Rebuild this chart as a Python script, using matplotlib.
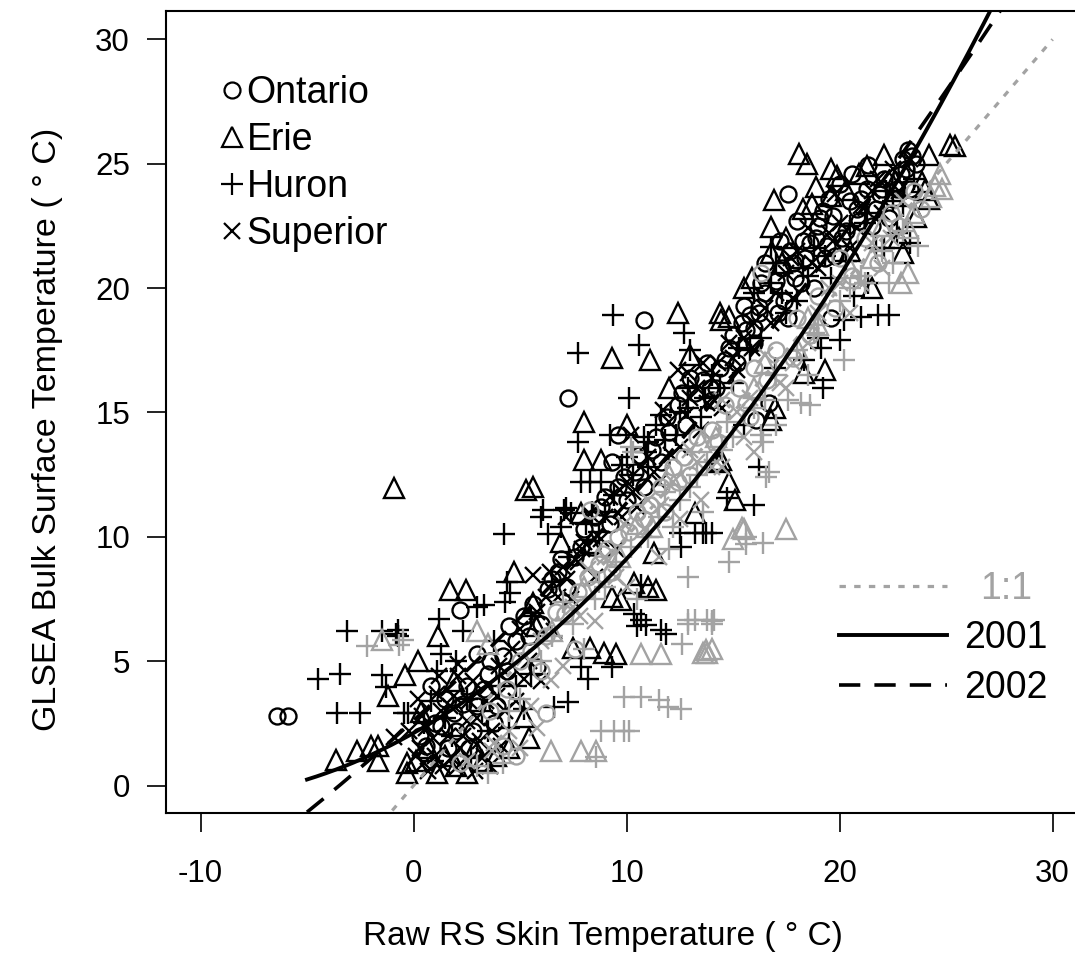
import numpy as np
import matplotlib
matplotlib.use("Agg")
import matplotlib.pyplot as plt
from matplotlib.lines import Line2D

plt.rcParams['font.family'] = ['Liberation Sans', 'DejaVu Sans']
plt.rcParams['axes.unicode_minus'] = False

# ---------------- data ----------------
ontario_black = [(-6.4, 2.8), (-5.9, 2.8), (2.2, 7.05), (4.5, 6.4), (7.25, 15.6), (10.8, 18.7), (9.6, 14.1),
                 (9.3, 13.0), (7.85, 9.6), (5.8, 4.75), (16.7, 15.4), (16.1, 14.7), (17.6, 23.8), (21.35, 24.95),
                 (23.2, 25.55), (23.0, 25.2), (17.65, 21.5), (15.5, 19.3), (16.2, 19.25), (16.0, 18.4), (19.6, 18.8),
                 (1.5, 3.5), (2.0, 2.2), (2.5, 4.0), (3.0, 3.2), (3.5, 4.5), (3.8, 2.5), (4.2, 5.2), (4.8, 5.8),
                 (5.2, 6.8), (5.6, 7.3), (6.0, 6.5), (6.3, 7.9), (6.8, 8.6), (7.2, 8.0), (7.6, 9.2), (8.0, 10.3),
                 (8.4, 9.6), (8.8, 11.2), (9.2, 10.5), (9.6, 12.0), (10.0, 11.5), (10.4, 12.6), (10.8, 12.0),
                 (11.2, 13.5), (11.6, 13.0), (12.0, 14.2), (12.4, 15.3), (12.8, 14.5), (13.2, 15.8), (13.6, 16.3),
                 (14.0, 15.5), (14.4, 16.8), (14.8, 17.6), (15.2, 17.0), (15.6, 18.3), (16.0, 17.8), (16.5, 19.8),
                 (17.0, 20.3), (17.4, 19.5), (17.8, 21.0), (18.2, 20.2), (18.6, 21.8), (19.0, 22.5), (19.3, 21.2),
                 (19.7, 22.9), (20.1, 22.0), (20.5, 23.5), (20.9, 22.7), (21.3, 24.0), (21.7, 23.2), (22.1, 24.4),
                 (22.5, 23.6), (22.9, 24.6), (23.3, 24.0), (23.6, 25.0), (18.0, 22.7), (17.2, 21.9), (16.5, 21.0),
                 (19.5, 23.6), (20.0, 24.2), (3.0, 5.3), (1.0, 2.5), (0.8, 4.0), (2.6, 1.5),
                 (0.6, 1.6), (1.3, 2.4), (1.9, 2.9), (2.3, 3.3), (3.3, 3.9), (3.9, 3.2), (4.4, 4.6), (2.8, 2.2),
                 (1.6, 1.5), (5.4, 6.0), (0.3, 2.0), (3.6, 5.0),
                 (16.3, 20.2), (17.1, 19.0), (17.9, 20.4), (18.4, 21.2), (18.9, 22.0), (19.4, 21.7), (19.8, 21.3),
                 (20.3, 22.3), (20.8, 23.2), (21.5, 22.5), (21.9, 23.8), (22.3, 22.8), (22.7, 24.0), (23.1, 24.8),
                 (18.8, 20.0), (17.6, 18.8), (15.8, 18.9), (15.0, 18.1), (14.2, 16.0), (13.8, 17.0), (20.6, 24.6),
                 (19.2, 23.1),
                 (13.0, 16.4), (13.9, 16.0), (14.6, 17.1), (15.4, 18.6), (16.2, 19.0), (17.3, 20.8), (18.3, 21.9),
                 (19.1, 22.8), (21.0, 23.6), (22.0, 24.0), (23.4, 25.3), (12.6, 15.8), (11.9, 14.8), (11.4, 14.0),
                 (10.6, 13.3), (9.9, 12.4), (9.0, 11.6), (8.5, 10.8), (6.9, 9.1), (6.5, 8.3)]
ontario_grey = [(4.8, 1.2), (16.3, 20.6), (8.3, 11.1), (3.6, 3.0), (4.4, 3.9), (5.0, 5.0), (5.5, 5.4), (6.2, 6.0),
                (6.7, 7.0), (7.1, 6.9), (7.7, 7.8), (8.2, 8.4), (8.7, 8.9), (9.1, 9.5), (9.6, 10.0), (10.1, 10.2),
                (10.5, 11.0), (11.1, 11.3), (11.6, 12.0), (12.2, 12.8), (12.7, 13.2), (13.3, 14.0), (14.0, 14.3),
                (14.6, 15.3), (15.3, 16.0), (16.0, 16.8), (17.0, 17.5), (18.0, 18.8), (19.0, 19.7), (20.0, 21.2),
                (21.2, 22.0), (22.4, 23.0), (23.5, 23.9), (6.0, 4.6), (7.6, 5.5), (4.2, 1.6), (2.2, 0.9),
                (9.3, 8.6), (11.8, 11.0), (13.0, 12.5), (15.8, 14.8), (17.8, 17.2), (19.8, 19.2), (21.8, 21.0),
                (23.8, 23.2), (6.2, 2.9),
                (8.9, 9.3), (10.8, 10.7), (12.4, 12.2), (14.3, 13.8), (15.6, 15.4), (16.6, 16.3), (18.6, 18.1),
                (20.6, 20.5), (22.8, 22.5)]
erie_black = [(-0.94, 11.96), (1.7, 7.85), (2.45, 7.85), (1.13, 6.0), (-0.4, 4.45), (-1.2, 3.6), (-3.65, 1.05),
              (-2.65, 1.4), (-2.0, 1.6), (-1.65, 1.6), (-1.65, 1.0), (-0.3, 0.9), (0.1, 1.0), (1.1, 0.5), (-0.3, 0.5),
              (0.33, 2.95), (5.3, 11.9), (5.6, 12.0), (8.0, 14.6), (8.0, 13.1), (8.8, 13.1), (9.3, 17.2), (11.1, 17.1),
              (12.4, 19.0), (14.4, 19.0), (7.85, 10.95), (6.9, 9.8), (8.35, 9.75), (4.7, 8.6), (5.6, 7.35),
              (5.75, 6.4), (14.3, 13.0), (14.8, 12.2), (15.1, 11.5), (13.2, 10.95), (11.3, 9.35), (10.35, 8.15),
              (11.0, 8.0), (11.4, 7.85), (9.3, 7.6), (9.75, 7.45), (7.5, 5.55), (8.3, 5.55), (8.95, 5.35), (9.5, 5.3),
              (5.2, 2.75), (5.4, 1.9), (3.85, 1.2), (16.8, 14.7), (16.95, 15.2), (14.45, 13.1), (18.1, 25.4),
              (18.45, 25.0), (19.6, 24.8), (20.9, 24.6), (22.1, 25.35), (24.2, 25.35), (25.2, 25.75), (25.4, 25.7),
              (16.9, 23.55), (18.9, 24.05), (18.3, 23.2), (18.7, 23.4), (16.8, 22.45), (19.6, 23.7), (20.3, 23.95),
              (23.6, 22.85), (23.85, 24.25), (24.0, 23.95), (24.2, 23.6), (16.8, 21.4), (14.8, 18.85), (14.45, 18.7),
              (23.0, 21.4), (22.8, 22.0), (18.35, 16.6), (19.3, 16.7), (2.0, 0.8), (3.2, 1.0), (1.5, 1.2),
              (12.0, 16.0), (13.0, 17.3), (10.0, 14.5), (15.5, 20.0), (20.5, 21.5), (21.5, 20.0), (17.5, 22.0),
              (15.9, 20.4), (0.7, 1.5), (2.5, 0.5), (4.5, 1.5), (2.9, 1.5), (1.9, 4.2), (0.2, 5.0),
              (21.3, 24.9), (22.6, 24.3), (17.3, 21.0), (19.9, 24.5)]
erie_grey = [(-1.46, 5.85), (3.0, 6.2), (3.5, 5.7), (10.7, 5.3), (11.6, 5.3), (13.8, 5.35), (13.6, 5.35), (6.45, 1.4),
             (7.85, 1.4), (8.55, 1.4), (15.5, 10.3), (15.0, 9.9), (17.5, 10.3), (13.75, 5.45), (14.0, 5.5),
             (24.7, 24.6), (24.5, 24.1), (24.3, 23.65), (23.2, 20.6), (22.9, 20.2), (15.4, 10.35), (12.0, 12.5),
             (13.5, 13.8), (10.5, 10.5), (8.0, 8.0), (6.5, 6.2), (16.5, 17.0), (18.5, 18.8), (20.5, 20.8),
             (22.0, 22.5), (23.5, 23.0), (19.0, 18.5), (24.8, 24.0),
             (9.7, 9.2), (11.2, 10.4), (14.2, 14.0), (16.0, 16.0), (18.0, 17.6), (21.5, 21.2), (23.2, 22.4)]
huron_black = [(-3.1, 6.2), (-1.46, 6.2), (-0.75, 6.25), (-0.75, 6.0), (-0.8, 6.1), (-4.5, 4.3), (-3.45, 4.5),
               (-1.46, 4.45), (-1.3, 3.95), (-3.6, 2.9), (-2.5, 2.9), (-0.45, 2.9), (-0.28, 2.9), (1.1, 4.6),
               (1.2, 6.7), (3.0, 7.2), (0.8, 3.4), (9.35, 18.9), (7.7, 17.4), (10.6, 17.7), (12.7, 18.2),
               (13.0, 17.5), (10.1, 15.6), (7.7, 13.8), (9.2, 14.1), (11.0, 13.8), (10.8, 14.0), (7.85, 12.2),
               (8.3, 12.2), (8.8, 12.2), (6.1, 11.1), (7.05, 11.1), (6.0, 10.8), (7.15, 11.15), (7.4, 10.95),
               (4.25, 10.1), (6.3, 10.1), (6.9, 10.4), (4.4, 8.2), (4.55, 7.75), (4.3, 7.4), (3.3, 7.25),
               (14.7, 11.55), (14.0, 10.15), (13.75, 10.15), (12.5, 10.15), (13.2, 10.15), (13.6, 10.15),
               (12.55, 9.6), (10.35, 6.9), (10.7, 6.65), (10.5, 6.4), (10.9, 6.45), (11.85, 6.1), (11.6, 6.25),
               (7.85, 4.75), (8.2, 4.3), (9.3, 4.75), (6.6, 3.15), (7.25, 3.35), (5.2, 3.1), (19.2, 16.0),
               (16.2, 12.8), (16.0, 11.3), (16.8, 21.65), (21.7, 21.6), (22.1, 21.6), (23.3, 21.8), (16.0, 19.8),
               (16.8, 20.2), (20.7, 19.7), (21.35, 20.2), (20.2, 18.7), (21.0, 18.85), (21.8, 18.9), (22.3, 18.9),
               (19.0, 18.0), (20.0, 17.9), (16.95, 16.8), (18.35, 17.1), (19.15, 17.6), (10.7, 8.05), (2.5, 3.5),
               (3.5, 2.2), (4.0, 4.0), (1.8, 2.0), (12.5, 15.0), (14.0, 16.5), (15.0, 16.2), (9.0, 11.0),
               (11.0, 12.8), (13.5, 14.8), (17.5, 19.0), (18.5, 20.5), (20.5, 22.5), (22.5, 23.5), (23.5, 24.4),
               (15.5, 14.5), (2.0, 5.0), (3.8, 5.8),
               (0.5, 2.5), (1.5, 2.7), (2.7, 1.2), (3.2, 3.0), (4.5, 2.3), (0.9, 1.0), (1.3, 5.3), (2.3, 6.2),
               (4.8, 4.0), (5.5, 4.5),
               (17.0, 21.0), (18.0, 19.5), (19.6, 20.4), (21.2, 22.6), (22.7, 22.2), (23.0, 23.3), (18.8, 21.6),
               (15.8, 17.5),
               (5.5, 6.8), (6.5, 8.2), (7.3, 9.2), (8.1, 10.5), (8.7, 10.2), (9.4, 11.7), (10.3, 12.5), (10.9, 13.4),
               (11.8, 13.9), (12.3, 14.1), (12.9, 15.2), (13.7, 15.6), (9.8, 12.9), (8.4, 11.0), (11.4, 14.5),
               (14.4, 16.0), (15.3, 17.6), (16.3, 18.0), (17.3, 19.8), (18.3, 20.8), (19.3, 21.3), (20.3, 21.1),
               (21.3, 23.0), (22.2, 23.9), (10.0, 13.2), (11.6, 14.9), (12.9, 16.0)]
huron_grey = [(-2.2, 5.6), (-0.7, 5.65), (-0.5, 5.85), (10.2, 13.6), (10.3, 13.4), (12.9, 8.4), (14.8, 9.0),
              (15.6, 10.0), (12.9, 6.65), (13.8, 6.65), (12.9, 6.5), (14.0, 6.5), (12.6, 5.7), (9.9, 3.55),
              (10.7, 3.55), (11.5, 3.45), (11.95, 3.15), (12.55, 3.1), (8.8, 2.2), (9.4, 2.2), (9.9, 2.2),
              (10.1, 2.2), (8.55, 1.15), (17.6, 15.5), (18.2, 15.4), (18.6, 15.3), (16.3, 14.1), (16.4, 13.8),
              (16.7, 12.6), (16.55, 12.4), (15.6, 9.7), (16.4, 9.75), (14.0, 6.6), (13.2, 6.65), (14.1, 6.65),
              (21.2, 20.2), (22.3, 20.2), (23.7, 21.7), (20.2, 17.1), (3.0, 0.8), (5.0, 3.5), (6.0, 5.0), (7.5, 6.5),
              (9.0, 8.0), (11.0, 10.0), (13.0, 12.0), (15.0, 14.0), (17.0, 16.5), (19.0, 18.5), (21.0, 20.5),
              (23.0, 22.3), (10.5, 7.5), (12.0, 9.5), (8.0, 5.5), (4.5, 3.0), (18.5, 16.5), (17.0, 14.5),
              (6.5, 6.0), (8.5, 7.5), (9.5, 9.0), (11.5, 10.8), (12.5, 11.5), (13.8, 13.0), (14.5, 13.5),
              (16.0, 15.2), (18.0, 17.5), (20.0, 19.5), (22.0, 21.5), (3.5, 0.5), (4.2, 0.9),
              (7.0, 7.4), (8.7, 8.2), (10.2, 9.6), (11.8, 11.8), (13.3, 12.5), (14.7, 14.6), (16.5, 15.5),
              (18.8, 18.2), (20.5, 20.0), (22.5, 21.0), (12.2, 10.4), (13.6, 11.0)]
superior_black = [(-0.94, 1.95), (2.07, 4.9), (5.6, 8.45), (10.2, 14.1), (7.15, 10.8), (0.3, 1.5), (0.6, 2.3),
                  (1.0, 1.2), (1.3, 3.0), (1.6, 2.0), (1.9, 3.6), (2.2, 1.5), (2.5, 2.6), (2.8, 4.2), (3.1, 1.8),
                  (3.4, 3.4), (3.7, 2.2), (4.0, 4.8), (4.3, 3.0), (4.6, 5.5), (0.2, 3.5), (0.5, 0.9), (2.0, 0.7),
                  (1.2, 4.4), (-0.2, 2.2), (5.0, 6.3), (5.4, 5.0), (6.2, 7.6), (6.6, 6.2), (7.0, 8.8), (7.4, 7.5),
                  (8.0, 9.8), (8.5, 8.4), (9.0, 10.8), (9.5, 9.5), (10.0, 12.2), (10.5, 11.2), (11.0, 13.2),
                  (11.5, 12.2), (12.0, 14.6), (12.5, 13.6), (13.0, 15.6), (13.5, 14.3), (14.0, 16.4), (14.5, 15.2),
                  (15.0, 17.2), (16.0, 18.6), (17.0, 19.8), (18.0, 21.5), (19.0, 20.8), (20.0, 22.6), (21.0, 23.3),
                  (22.0, 23.0), (11.7, 15.1), (12.4, 16.7), (13.6, 17.0), (12.9, 16.6), (6.0, 4.2), (3.6, 0.8),
                  (0.4, 2.8), (0.9, 1.9), (1.4, 0.8), (1.7, 3.2), (2.3, 2.0), (2.6, 3.4), (3.0, 2.7), (3.3, 1.2),
                  (3.9, 3.6), (4.4, 4.2), (4.8, 3.4), (0.1, 1.2), (1.1, 3.7), (2.1, 4.4), (3.5, 4.0), (2.9, 0.6),
                  (4.1, 1.6), (5.2, 4.3), (1.8, 1.1), (0.7, 0.6),
                  (16.5, 19.2), (17.5, 20.6), (18.5, 22.4), (19.5, 22.2), (20.5, 21.6), (21.5, 23.9), (22.5, 24.8),
                  (15.5, 18.0), (14.8, 17.8), (13.3, 16.0), (17.8, 19.6), (19.8, 23.8),
                  (5.8, 7.0), (6.4, 8.6), (7.7, 9.0), (8.3, 10.9), (9.2, 11.6), (9.8, 10.8), (10.7, 12.8),
                  (11.3, 12.6), (12.1, 13.3), (12.8, 14.9),
                  (13.8, 15.4), (14.3, 17.0), (15.2, 16.7), (15.9, 17.6), (16.8, 18.6), (17.7, 21.2), (18.7, 21.0),
                  (19.7, 21.9), (20.8, 22.4), (21.8, 24.4), (22.8, 23.9), (23.3, 25.2), (10.3, 11.8), (9.7, 11.9),
                  (8.8, 9.9), (7.9, 9.5), (7.2, 8.3), (6.8, 7.6)]
superior_grey = [(6.45, 4.25), (3.8, 1.7), (3.7, 1.4), (16.0, 13.4), (5.5, 3.2), (7.0, 4.8), (8.5, 6.6), (10.0, 8.0),
                 (11.5, 9.2), (12.5, 10.7), (13.5, 11.5), (14.5, 12.8), (15.5, 14.0), (17.5, 16.0), (18.5, 17.8),
                 (20.5, 19.0), (22.0, 20.8), (2.5, 1.0), (4.5, 2.2), (9.0, 9.2), (11.0, 11.5), (13.0, 13.5),
                 (14.5, 15.5), (16.5, 17.3), (19.5, 20.0), (21.5, 21.8), (7.5, 7.2), (6.0, 5.8),
                 (7.8, 6.8), (9.5, 8.4), (10.8, 10.3), (12.2, 12.2), (14.0, 12.8), (15.8, 15.6), (17.2, 16.2),
                 (19.0, 19.0), (21.0, 20.2), (23.0, 23.5), (5.0, 1.5), (5.8, 2.3),
                 (8.2, 8.7), (9.9, 10.5), (11.6, 11.3), (13.3, 13.0), (15.2, 15.0), (17.8, 17.0), (20.0, 20.2),
                 (22.4, 22.0)]

# fitted curves: points
fit2001_x = [-5.0, -1.8, -0.75, 5.8, 14.8, 16.7, 24.3, 27.06]
fit2001_y = [0.18, 1.15, 1.95, 5.85, 14.0, 16.0, 26.8, 31.14]
fit2002_x = [-5.0, -2.16, 5.8, 12.0, 25.9, 27.5]
fit2002_y = [-0.95, 0.9, 7.2, 13.6, 29.0, 31.1]
one_to_one_x = [-1.0, 30.0]
one_to_one_y = [-1.0, 30.0]

lake_labels = ['Ontario', 'Erie', 'Huron', 'Superior']
line_labels = ['1:1', '2001', '2002']

# ---------------- styling ----------------
BLACK = '#000000'
GREY = '#a3a3a3'
marker_style = {'Ontario': ('o', 11.5), 'Erie': ('^', 14.5), 'Huron': ('+', 15.5), 'Superior': ('x', 12)}

W, H = 1075, 961
fig = plt.figure(figsize=(W / 100, H / 100), dpi=100)
ax = fig.add_axes([166 / W, (H - 813) / H, (W - 166) / W + 0.002, (813 - 11) / H])

groups = [('Ontario', ontario_black, BLACK), ('Erie', erie_black, BLACK), ('Huron', huron_black, BLACK),
          ('Superior', superior_black, BLACK),
          ('Ontario', ontario_grey, GREY), ('Erie', erie_grey, GREY), ('Huron', huron_grey, GREY),
          ('Superior', superior_grey, GREY)]
for lake, pts, col in groups:
    arr = np.array(pts)
    m, ms = marker_style[lake]
    ax.plot(arr[:, 0], arr[:, 1], ls='none', marker=m, ms=ms, mfc='none', mec=col, mew=1.7, zorder=2)

# curves
xx = np.linspace(-5, 30, 400)
c01 = np.polyfit(fit2001_x, fit2001_y, 2)
c02 = np.polyfit(fit2002_x, fit2002_y, 2)
ax.plot(one_to_one_x, one_to_one_y, color=GREY, lw=2.3, ls=(0, (2, 2.6)), zorder=3)
ax.plot(xx, np.polyval(c01, xx), color=BLACK, lw=2.8, zorder=4)
ax.plot(xx, np.polyval(c02, xx), color=BLACK, lw=2.6, ls=(0, (5.9, 3.9)), zorder=4)

ax.set_xlim(-11.62, (W - 413) / 21.25)
ax.set_ylim(-1.1, 31.14)
ax.set_xticks([-10, 0, 10, 20, 30])
ax.set_yticks([0, 5, 10, 15, 20, 25, 30])
ax.tick_params(axis='both', direction='out', length=14, width=1.4, labelsize=22.5, color='#222222')
ax.tick_params(axis='x', pad=19)
ax.tick_params(axis='y', pad=12)
for s in ['left', 'bottom', 'top']:
    ax.spines[s].set_linewidth(1.5)
ax.spines['right'].set_visible(False)

ax.set_xlabel('Raw RS Skin Temperature ( ° C)', fontsize=24, labelpad=23.5)
ax.set_ylabel('GLSEA Bulk Surface Temperature ( ° C)', fontsize=24.5, labelpad=23)
ax.xaxis.label.set_x(0.479)
ax.yaxis.label.set_y(0.478)

# legend 1: lakes
handles1 = [Line2D([], [], ls='none', marker=marker_style[l][0], ms=marker_style[l][1], mfc='none',
                   mec=BLACK, mew=1.6) for l in lake_labels]
leg1 = ax.legend(handles1, lake_labels, loc='upper left', bbox_to_anchor=((221 - 166) / 909, 0.92),
                 frameon=False, fontsize=27, handlelength=0.6, handletextpad=0.08, labelspacing=0.29,
                 borderpad=0, borderaxespad=0)
ax.add_artist(leg1)

# legend 2: lines
handles2 = [Line2D([], [], color=GREY, lw=2.3, ls=(0, (2, 2.6))),
            Line2D([], [], color=BLACK, lw=2.8),
            Line2D([], [], color=BLACK, lw=2.6, ls=(0, (5.9, 3.9)))]
leg2 = ax.legend(handles2, line_labels, loc='upper left', bbox_to_anchor=((837 - 166) / 909, 0.3018),
                 frameon=False, fontsize=27, handlelength=2.9, handletextpad=0.45, labelspacing=0.36,
                 borderpad=0, borderaxespad=0)
t0 = leg2.get_texts()[0]
t0.set_color(GREY)
t0.set_x(16)  # the reference centres "1:1" under the wider year labels

fig.savefig('out.png', dpi=100)
